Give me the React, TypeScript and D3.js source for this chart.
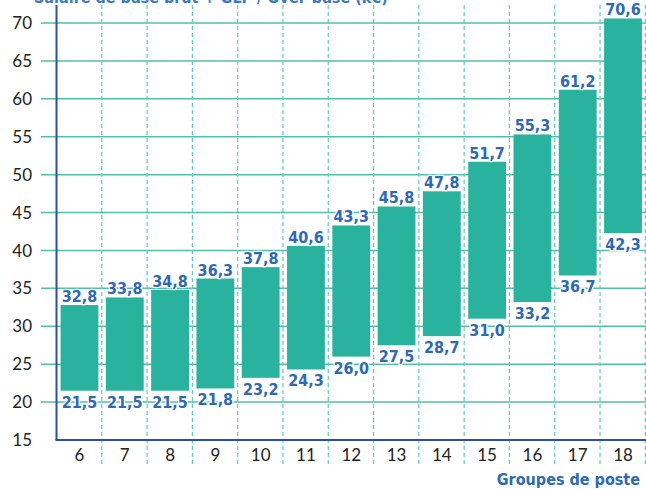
import { useEffect, useRef } from 'react'
import * as d3 from 'd3'

const groups = ['6', '7', '8', '9', '10', '11', '12', '13', '14', '15', '16', '17', '18']
const lows = [21.5, 21.5, 21.5, 21.8, 23.2, 24.3, 26.0, 27.5, 28.7, 31.0, 33.2, 36.7, 42.3]
const highs = [32.8, 33.8, 34.8, 36.3, 37.8, 40.6, 43.3, 45.8, 47.8, 51.7, 55.3, 61.2, 70.6]
const yTicks = [15, 20, 25, 30, 35, 40, 45, 50, 55, 60, 65, 70]

const fmt = (v: number) => v.toFixed(1).replace('.', ',')

export default function App() {
  const ref = useRef<HTMLDivElement>(null)

  useEffect(() => {
    const width = 646
    const height = 489
    const margin = { top: 23, left: 56.5, right: 0, bottom: 49 }
    const labelFont = '"DejaVu Sans Condensed", "DejaVu Sans", sans-serif'

    const el = d3.select(ref.current)
    el.selectAll('*').remove()

    const svg = el.append('svg')
      .attr('width', width)
      .attr('height', height)
      .style('display', 'block')
      .style('background', '#fff')

    const x = d3.scaleBand()
      .domain(groups)
      .range([margin.left, width - margin.right])
      .paddingInner(0.165)
      .paddingOuter(0.09)

    const y = d3.scaleLinear()
      .domain([15, 70])
      .range([height - margin.bottom, margin.top])

    const step = x.step()
    const blue = '#2d6ab3'

    // title, cut off at top like the source
    svg.append('text')
      .attr('x', 34)
      .attr('y', 3)
      .attr('fill', '#3b78c2')
      .attr('font-family', labelFont)
      .attr('font-stretch', 'condensed')
      .attr('font-weight', 'bold')
      .attr('font-size', 16)
      .text('Salaire de base brut + GLP / Over-base (k€)')

    // horizontal grid
    svg.append('g')
      .selectAll('line')
      .data(yTicks.filter(d => d > 15))
      .join('line')
      .attr('x1', 41)
      .attr('x2', width)
      .attr('y1', d => y(d))
      .attr('y2', d => y(d))
      .attr('stroke', '#52bfa9')
      .attr('stroke-width', 1.5)

    // vertical dashed dividers
    const dividers = d3.range(1, groups.length + 1).map(i => margin.left + i * step)
    svg.append('g')
      .selectAll('line')
      .data(dividers)
      .join('line')
      .attr('x1', d => d)
      .attr('x2', d => d)
      .attr('y1', 5)
      .attr('y2', 466)
      .attr('stroke', '#5ccdbb')
      .attr('stroke-width', 1.2)
      .attr('stroke-dasharray', '4,3')

    // bars
    svg.append('g')
      .selectAll('rect')
      .data(groups)
      .join('rect')
      .attr('x', d => x(d) as number)
      .attr('width', x.bandwidth())
      .attr('y', (d, i) => y(highs[i]))
      .attr('height', (d, i) => y(lows[i]) - y(highs[i]))
      .attr('fill', '#29b29e')

    // axes
    svg.append('line')
      .attr('x1', margin.left)
      .attr('x2', margin.left)
      .attr('y1', 5)
      .attr('y2', y(15))
      .attr('stroke', '#2a4fa3')
      .attr('stroke-width', 2)

    svg.append('line')
      .attr('x1', margin.left - 1)
      .attr('x2', width)
      .attr('y1', y(15))
      .attr('y2', y(15))
      .attr('stroke', '#2a4fa3')
      .attr('stroke-width', 2)

    // y tick labels
    svg.append('g')
      .selectAll('text')
      .data(yTicks)
      .join('text')
      .attr('x', 32)
      .attr('y', d => y(d))
      .attr('dy', '0.36em')
      .attr('text-anchor', 'end')
      .attr('font-family', 'Lato, sans-serif')
      .attr('font-size', 17)
      .attr('fill', '#222')
      .text(d => d)

    // x tick labels
    svg.append('g')
      .selectAll('text')
      .data(groups)
      .join('text')
      .attr('x', d => (x(d) as number) + x.bandwidth() / 2)
      .attr('y', 461)
      .attr('text-anchor', 'middle')
      .attr('font-family', 'Lato, sans-serif')
      .attr('font-size', 17)
      .attr('fill', '#222')
      .text(d => d)

    // value labels
    const labels = svg.append('g')
      .attr('font-family', labelFont)
      .attr('font-stretch', 'condensed')
      .attr('font-weight', 'bold')
      .attr('font-size', 16)
      .attr('fill', blue)
      .attr('text-anchor', 'middle')
      .attr('stroke', '#fff')
      .attr('stroke-width', 2.5)
      .attr('stroke-linejoin', 'round')
      .attr('paint-order', 'stroke')

    labels.selectAll('text.hi')
      .data(groups)
      .join('text')
      .attr('class', 'hi')
      .attr('x', d => (x(d) as number) + x.bandwidth() / 2)
      .attr('y', (d, i) => y(highs[i]) - 3)
      .text((d, i) => fmt(highs[i]))

    labels.selectAll('text.lo')
      .data(groups)
      .join('text')
      .attr('class', 'lo')
      .attr('x', d => (x(d) as number) + x.bandwidth() / 2)
      .attr('y', (d, i) => y(lows[i]) + 17)
      .text((d, i) => fmt(lows[i]))

    svg.append('text')
      .attr('x', 640)
      .attr('y', 485)
      .attr('text-anchor', 'end')
      .attr('font-family', labelFont)
      .attr('font-stretch', 'condensed')
      .attr('font-weight', 'bold')
      .attr('font-size', 16)
      .attr('fill', blue)
      .text('Groupes de poste')
  }, [])

  return (
    <div style={{ position: 'absolute', left: 0, top: 0 }}>
      <div ref={ref}></div>
    </div>
  )
}
